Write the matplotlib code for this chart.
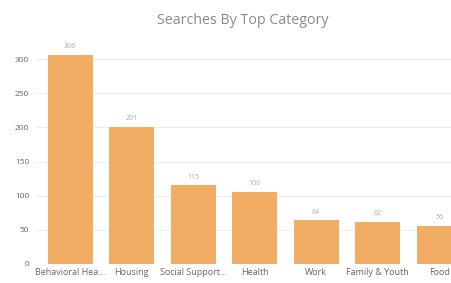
import matplotlib.pyplot as plt

categories = ["Behavioral Hea...", "Housing", "Social Support...", "Health",
              "Work", "Family & Youth", "Food"]
searches = [306, 201, 115, 106, 64, 62, 56]
yticks = [0, 50, 100, 150, 200, 250, 300]

plt.rcParams['font.family'] = ['Open Sans', 'DejaVu Sans']

fig = plt.figure(figsize=(4.52, 2.83), dpi=100)
ax = fig.add_axes([36 / 452, 19 / 283, 1 - 36 / 452, 224 / 283])

x = range(len(categories))
ax.bar(x, searches, width=0.73, color='#f2ad65', zorder=2)
for xi, v in zip(x, searches):
    ax.text(xi, v + 7, str(v), ha='center', va='bottom', fontsize=5,
            color='#aaaaaa')

ax.set_xlim(-0.555, 6.21)
ax.set_ylim(0, 328)
ax.set_yticks(yticks)
ax.set_xticks(list(x))
ax.set_xticklabels(categories, fontsize=6.5, color='#666666')
ax.tick_params(axis='y', labelsize=6, labelcolor='#666666', length=0, pad=5)
ax.tick_params(axis='x', length=0, pad=3)
ax.grid(axis='y', color='#eeeeee', linewidth=0.8, zorder=0)
for s in ax.spines.values():
    s.set_visible(False)

fig.text(243 / 452, 1 - 20 / 283, "Searches By Top Category", ha='center',
         va='center', fontsize=10.3, color='#8a8a8a')

fig.savefig('out.png', dpi=100)
